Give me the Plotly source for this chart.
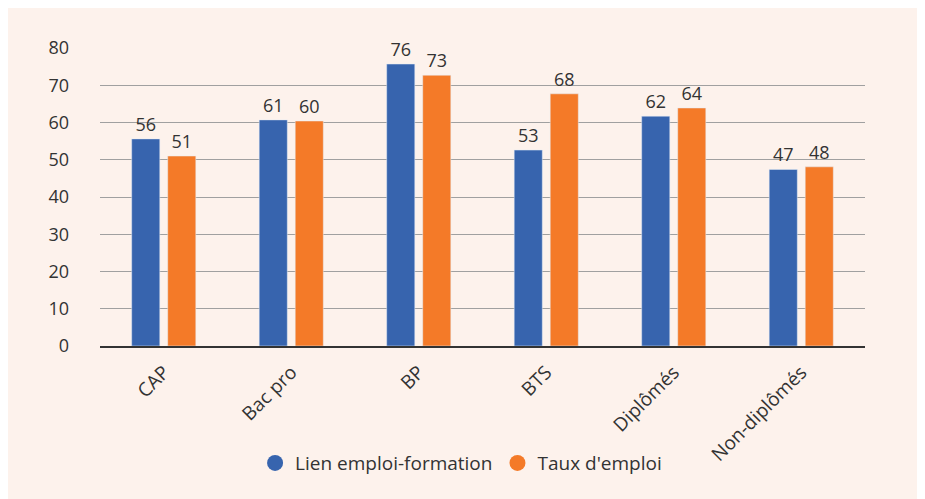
import plotly.graph_objects as go

categories = ["CAP", "Bac pro", "BP", "BTS", "Diplômés", "Non-diplômés"]
lien = [55.6, 60.7, 75.7, 52.6, 61.7, 47.4]
taux = [51.0, 60.4, 72.7, 67.7, 63.9, 48.1]
series_names = ["Lien emploi-formation", "Taux d'emploi"]
colors = ["#3764AE", "#F47A28"]
yticks = [0, 10, 20, 30, 40, 50, 60, 70, 80]

font = "Open Sans"
fig = go.Figure()
for name, vals, col in zip(series_names, [lien, taux], colors):
    fig.add_trace(go.Bar(
        x=categories, y=vals, name=name, marker_color=col,
        text=[f"{round(v)}" for v in vals], textposition="outside",
        textfont=dict(size=18, color="#333333", family=font),
        cliponaxis=False, showlegend=False,
    ))
    fig.add_trace(go.Scatter(
        x=[None], y=[None], mode="markers", name=name,
        marker=dict(symbol="circle", size=16, color=col),
    ))

fig.update_layout(
    width=925, height=499,
    paper_bgcolor="#FDF2EC", plot_bgcolor="#FDF2EC",
    margin=dict(l=92, r=68, t=40, b=161),
    barmode="group", bargap=0.435, bargroupgap=0.22,
    font=dict(family=font, size=18, color="#333333"),
    legend=dict(orientation="h", x=0.472, xanchor="center", y=-0.393, yanchor="middle",
                font=dict(size=19, color="#333333"), itemwidth=30,
                bgcolor="rgba(0,0,0,0)", traceorder="normal"),
    xaxis=dict(tickangle=-45, showgrid=False, showline=True, linecolor="#333333",
               linewidth=1.5, ticks="", tickfont=dict(size=19, color="#333333"),
               ticklabelstandoff=6),
    yaxis=dict(range=[0, 80], tickvals=yticks, showgrid=True, gridcolor="#A0A0A0",
               gridwidth=1, zeroline=False, ticks="", showline=False,
               tickfont=dict(size=18, color="#333333"), ticklabelstandoff=30),
)
fig.write_html("out.html")
